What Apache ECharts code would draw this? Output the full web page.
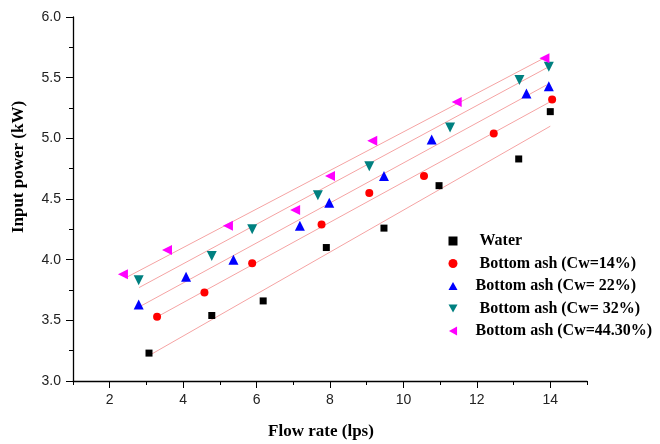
<!DOCTYPE html>
<html>
<head>
<meta charset="utf-8">
<script src="https://cdn.jsdelivr.net/npm/echarts@6/dist/echarts.min.js"></script>
<style>
  html, body { margin: 0; padding: 0; background: #fff; }
  #chart { width: 660px; height: 444px; }
</style>
</head>
<body>
<div id="chart"></div>
<script>
// legend names (leading spaces kept as in the figure)
var names = [' Water', ' Bottom ash (Cw=14%)', 'Bottom ash (Cw= 22%)', ' Bottom ash (Cw= 32%)', 'Bottom ash (Cw=44.30%)'];

// measured points [flow rate, input power]
var water = [[3.07, 3.23], [4.78, 3.54], [6.18, 3.66], [7.9, 4.10], [9.47, 4.26], [10.97, 4.61], [13.14, 4.83], [14.0, 5.22]];
var ash14 = [[3.29, 3.53], [4.58, 3.73], [5.88, 3.97], [7.77, 4.29], [9.07, 4.55], [10.56, 4.69], [12.46, 5.04], [14.05, 5.32]];
var ash22 = [[2.79, 3.63], [4.08, 3.86], [5.37, 4.00], [7.18, 4.28], [7.98, 4.47], [9.47, 4.69], [10.77, 4.99], [13.35, 5.37], [13.96, 5.43]];
var ash32 = [[2.79, 3.83], [4.78, 4.03], [5.88, 4.25], [7.67, 4.53], [9.07, 4.77], [11.27, 5.09], [13.16, 5.48], [13.96, 5.59]];
var ash44 = [[2.36, 3.88], [3.56, 4.08], [5.22, 4.28], [7.05, 4.41], [8.0, 4.69], [9.15, 4.98], [11.45, 5.30], [13.84, 5.66]];

// fitted lines, end points
var fitWater = [[3.13, 3.22], [14.0, 5.10]];
var fit14 = [[3.36, 3.54], [14.05, 5.31]];
var fit22 = [[2.86, 3.62], [13.9, 5.44]];
var fit32 = [[2.80, 3.77], [13.96, 5.59]];
var fit44 = [[2.43, 3.85], [13.82, 5.66]];

var xLabels = [2, 4, 6, 8, 10, 12, 14];

var points = [water, ash14, ash22, ash32, ash44];
var fits = [fitWater, fit14, fit22, fit32, fit44];
var colors = ['#000000', '#ff0000', '#0000ff', '#008080', '#ff00ff'];
var symbols = [
    'rect',
    'circle',
    'path://M5,0 L10,9 L0,9 Z',   // up
    'path://M0,0 L10,0 L5,9 Z',   // down
    'path://M9,0 L9,10 L0,5 Z'    // left
];
var sizes = [7, 8, 10, 10, 10];

var myChart = echarts.init(document.getElementById('chart'));

var series = [];
for (var i = 0; i < fits.length; i++) {
    series.push({
        type: 'line',
        data: fits[i],
        showSymbol: false,
        silent: true,
        lineStyle: {color: '#f5a3a3', width: 1},
        z: 1
    });
}
for (var i = 0; i < points.length; i++) {
    series.push({
        name: names[i],
        type: 'scatter',
        data: points[i],
        symbol: symbols[i],
        symbolSize: sizes[i],
        itemStyle: {color: colors[i], opacity: 1},
        z: 3
    });
}

var axisFont = {fontFamily: 'Liberation Sans, Arial, sans-serif', fontSize: 14, color: '#222'};
var serif = 'Liberation Serif, Times New Roman, serif';

var option = {
    animation: false,
    grid: {left: 73, right: 73, top: 17, bottom: 63},
    legend: {
        data: names.map(function (n, i) {
            return {name: n, icon: symbols[i]};
        }),
        orient: 'vertical',
        left: 448.5,
        top: 233,
        padding: 0,
        itemWidth: 9,
        itemHeight: 9,
        itemGap: 6.5,
        textStyle: {fontFamily: serif, fontWeight: 'bold', fontSize: 16, lineHeight: 16, color: '#000', padding: [0, 0, 0, 13]}
    },
    xAxis: [
        {
            // labelled axis, long ticks at the even values
            type: 'value',
            min: 1, max: 15, interval: 1,
            splitLine: {show: false},
            axisLine: {lineStyle: {color: '#000', width: 1.3}},
            axisTick: {inside: false, length: 7, customValues: xLabels, lineStyle: {color: '#000'}},
            axisLabel: Object.assign({margin: 12, customValues: xLabels}, axisFont)
        },
        {
            // short ticks at the odd values
            type: 'value',
            position: 'bottom',
            offset: 0,
            min: 1, max: 15, interval: 2,
            splitLine: {show: false},
            axisLine: {show: false},
            axisTick: {show: true, inside: false, length: 4, lineStyle: {color: '#000'}},
            axisLabel: {show: false}
        }
    ],
    yAxis: {
        type: 'value',
        min: 3, max: 6, interval: 0.5,
        splitLine: {show: false},
        axisLine: {show: true, lineStyle: {color: '#000', width: 1.3}},
        axisTick: {show: true, inside: false, length: 7, lineStyle: {color: '#000'}},
        minorTick: {show: true, splitNumber: 2, length: 4, lineStyle: {color: '#000'}},
        axisLabel: Object.assign({margin: 12, formatter: function (v) { return v.toFixed(1); }}, axisFont)
    },
    graphic: [
        {
            type: 'text',
            x: 321, y: 432,
            style: {text: 'Flow rate (lps)', fontFamily: serif, fontWeight: 'bold', fontSize: 17, fill: '#000', align: 'center', verticalAlign: 'middle'}
        },
        {
            type: 'text',
            x: 19, y: 167,
            rotation: Math.PI / 2,
            style: {text: 'Input power (kW)', fontFamily: serif, fontWeight: 'bold', fontSize: 17, fill: '#000', align: 'center', verticalAlign: 'middle'}
        }
    ],
    series: series
};

myChart.setOption(option);
</script>
</body>
</html>
